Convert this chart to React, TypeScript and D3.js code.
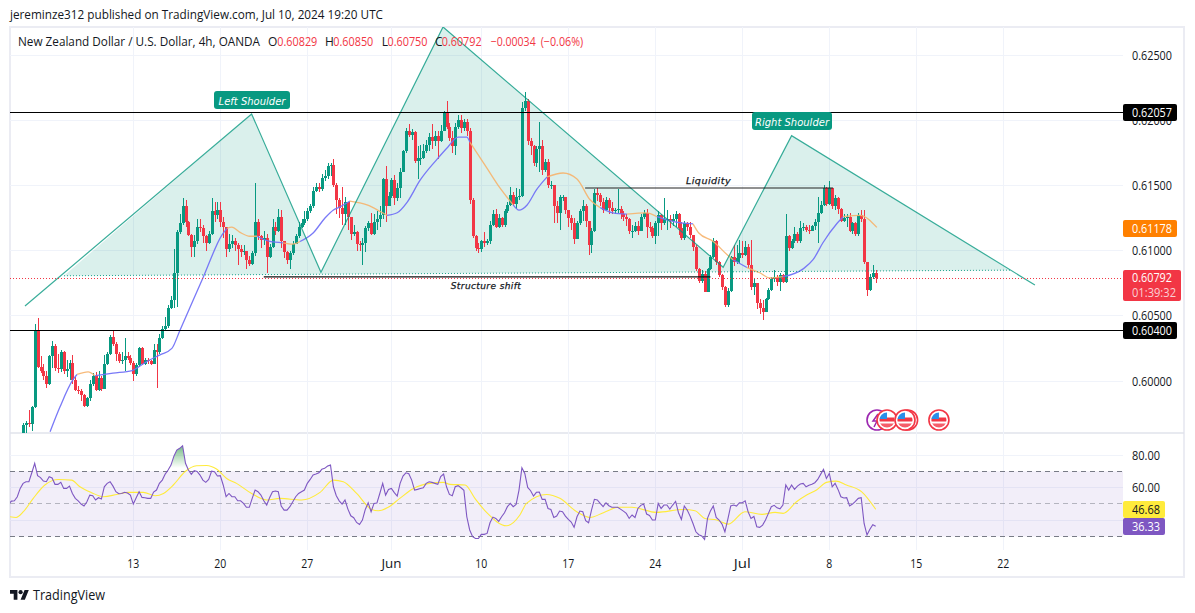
import React from "react";
import * as d3 from "d3";

// ---- data (prices in 1/10000 units) ----
const closes = [
5966,5968,5967,5980,6038,6011,6008,6004,5998,6019,
6027,6010,6009,6022,6008,6009,6014,6001,5993,5992,
5989,5981,5987,5998,6004,5993,6002,5994,6013,6021,
6034,6028,6021,6015,6016,6019,6018,6014,6005,6012,
6025,6013,6016,6015,6013,6024,6022,6033,6040,6042,
6056,6062,6083,6114,6121,6134,6122,6112,6103,6107,
6118,6117,6111,6106,6113,6130,6127,6131,6122,6118,
6101,6105,6107,6104,6101,6099,6100,6093,6090,6098,
6122,6111,6108,6110,6095,6103,6118,6115,6126,6107,
6099,6093,6098,6105,6111,6118,6121,6124,6130,6134,
6146,6149,6147,6156,6157,6165,6166,6150,6139,6133,
6128,6137,6126,6113,6114,6105,6104,6106,6117,6121,
6113,6122,6124,6127,6155,6134,6142,6154,6140,6148,
6160,6176,6192,6189,6191,6169,6171,6171,6176,6181,
6187,6184,6188,6184,6192,6206,6195,6186,6180,6195,
6200,6194,6199,6192,6139,6111,6102,6101,6107,6106,
6107,6120,6128,6118,6125,6120,6130,6135,6143,6136,
6141,6142,6209,6215,6184,6180,6167,6178,6180,6162,
6168,6150,6150,6134,6129,6141,6141,6131,6125,6121,
6109,6121,6130,6134,6123,6104,6115,6144,6143,6137,
6131,6139,6133,6130,6131,6132,6128,6126,6124,6115,
6115,6119,6115,6126,6129,6118,6117,6111,6121,6127,
6121,6124,6124,6123,6124,6128,6117,6110,6121,6118,
6112,6103,6086,6077,6082,6068,6086,6095,6107,6091,
6081,6072,6058,6069,6095,6091,6094,6098,6097,6103,
6089,6072,6075,6060,6056,6053,6063,6070,6078,6080,
6076,6081,6076,6111,6102,6107,6113,6107,6117,6118,
6116,6115,6119,6122,6129,6135,6148,6136,6148,6134,
6140,6132,6123,6125,6126,6115,6121,6113,6127,6124,
6091,6070,6080,6082.9,6079.2];
const highs = [
5968,5969,5978,5981,6044,6048,6019,6013,6008,6020,
6031,6028,6021,6024,6023,6016,6016,6020,6003,5996,
5994,5990,5988,6001,6006,6007,6008,6004,6020,6022,
6035,6039,6030,6022,6022,6033,6022,6020,6015,6014,
6026,6026,6018,6018,6016,6028,6028,6036,6042,6049,
6058,6065,6101,6116,6128,6140,6139,6123,6113,6112,
6124,6124,6120,6112,6115,6140,6137,6137,6137,6126,
6118,6113,6112,6110,6106,6104,6104,6100,6096,6100,
6152,6124,6112,6115,6113,6105,6124,6122,6132,6131,
6107,6100,6100,6107,6113,6122,6124,6130,6133,6136,
6149,6152,6152,6159,6162,6167,6167,6170,6152,6140,
6149,6141,6137,6126,6120,6115,6107,6110,6119,6123,
6129,6128,6130,6134,6156,6165,6145,6156,6158,6152,
6163,6177,6194,6197,6193,6192,6180,6181,6182,6185,
6190,6197,6192,6192,6196,6207,6215,6198,6192,6198,
6204,6204,6201,6201,6194,6140,6112,6106,6108,6114,
6109,6123,6131,6132,6128,6126,6132,6137,6149,6145,
6148,6147,6214,6222,6216,6186,6181,6180,6199,6185,
6170,6170,6153,6150,6138,6143,6143,6141,6131,6127,
6125,6123,6132,6139,6136,6123,6117,6147,6148,6144,
6140,6141,6140,6137,6133,6147,6134,6130,6128,6125,
6120,6122,6123,6128,6131,6132,6122,6119,6123,6130,
6128,6140,6131,6127,6128,6130,6129,6122,6123,6122,
6122,6112,6104,6087,6085,6084,6087,6097,6110,6108,
6092,6082,6073,6071,6096,6104,6104,6108,6107,6107,
6105,6108,6079,6075,6063,6062,6064,6071,6080,6085,
6081,6083,6082,6128,6112,6109,6118,6114,6123,6121,
6120,6120,6120,6124,6141,6138,6150,6149,6153,6148,
6143,6141,6133,6128,6128,6129,6122,6122,6129,6131,
6131,6091,6082,6089,6085];
const lows = [
5959,5960,5965,5962,5979,6010,6006,6001,5995,5997,
6010,6008,6006,6007,6005,6003,6001,5998,5992,5990,
5985,5980,5980,5985,5996,5992,5992,5992,5994,6012,
6020,6027,6015,6014,6013,6008,6016,6012,6000,6004,
6011,6012,6012,6013,6012,6013,5995,6021,6032,6039,
6041,6055,6056,6057,6113,6120,6118,6111,6095,6095,
6105,6114,6106,6100,6105,6112,6122,6124,6118,6110,
6095,6099,6102,6100,6089,6095,6097,6086,6088,6089,
6096,6108,6102,6104,6083,6094,6102,6112,6114,6102,
6094,6090,6086,6097,6105,6110,6117,6120,6123,6129,
6133,6145,6145,6146,6153,6155,6157,6149,6128,6125,
6120,6120,6116,6108,6111,6100,6100,6089,6099,6115,
6112,6112,6116,6118,6124,6122,6134,6140,6135,6138,
6140,6160,6175,6187,6185,6167,6155,6166,6170,6175,
6176,6178,6180,6170,6183,6192,6193,6184,6175,6173,
6193,6190,6192,6188,6136,6110,6100,6098,6099,6103,
6104,6105,6119,6117,6117,6118,6118,6129,6134,6134,
6132,6139,6141,6207,6181,6173,6165,6164,6160,6158,
6160,6148,6147,6121,6121,6116,6138,6128,6118,6116,
6105,6109,6120,6123,6118,6097,6098,6114,6138,6134,
6129,6130,6128,6128,6128,6129,6124,6123,6119,6113,
6110,6114,6112,6116,6124,6110,6114,6110,6105,6111,
6116,6120,6116,6117,6119,6118,6112,6108,6108,6115,
6110,6100,6084,6075,6075,6068,6069,6085,6094,6089,
6080,6070,6057,6057,6068,6088,6090,6090,6094,6096,
6087,6070,6066,6055,6051,6047,6053,6062,6069,6076,
6073,6069,6075,6075,6100,6101,6106,6106,6106,6115,
6114,6113,6115,6116,6106,6128,6134,6134,6135,6132,
6131,6128,6122,6122,6118,6114,6113,6111,6111,6122,
6090,6065,6069,6078,6075];
const firstOpen = 5960;

// EMA line: candle index, value, colour run
const emaIdx = [9.3,12.7,17.2,18.6,22.4,24.8,31,37.6,39.3,42.7,47.2,51.3,54.1,62,68.6,70.3,72,74.8,78.2,80.7,85.1,89.6,93,95.5,100,104.1,106.9,109.3,112.7,118.6,123.1,125.5,129,132.4,136.9,142.7,146.5,150,153,154.1,160,163.8,167.2,169,171,173.8,177,180.7,186.2,191,195.5,199,203.4,208.2,215,218.6,222,227.5,231,233,238,242.7,244.8,249.6,254,257.5,262,269,272.4,275.8,280.7,282.8,288.6,294.4];
const emaVal = [5961,5980,6001,6005,6007,6004,6006,6008,6010,6015,6020,6025,6039,6079,6112,6117,6118,6114,6111,6111,6107,6106,6105,6107,6113.5,6125,6131,6133.5,6138,6135,6130,6127,6129,6137,6154,6170,6179.5,6187,6187,6183,6163,6150,6140,6135,6131,6135,6146.5,6156.5,6159.5,6155,6139,6133,6129,6128,6129,6126,6123.5,6121,6120.5,6113.5,6107,6097,6093,6087,6083,6079,6080,6086,6093,6106,6121,6126,6127,6117.8];
const emaOrangeRuns = [[18.6,24.8],[70.3,80.7],[89.6,95.5],[112.7,125.5],[154.1,169],[180.7,199],[208.2,218.6],[231,244.8],[249.6,262],[282.8,294.4]];

const rsiStart = -5;
const rsiVal = [
49.9,51.7,51.9,54.4,59.5,
62.6,63.6,63.6,69.1,74.9,67.3,66.1,64.0,63.6,66.7,
65.9,62.0,62.0,63.2,59.5,59.5,60.9,56.4,53.4,51.9,
49.9,48.7,51.3,55.4,55.0,52.4,53.8,53.0,60.5,62.6,
63.6,60.9,57.5,56.2,56.4,57.1,56.7,55.4,49.9,53.8,
57.5,54.0,53.8,53.4,53.4,57.3,58.5,62.6,64.6,68.3,
70.8,73.8,79.3,83.0,84.1,85.7,74.9,70.8,68.1,70.4,
69.9,67.7,64.6,63.2,65.0,70.1,69.7,67.1,67.3,61.6,
54.4,56.4,54.4,54.4,51.9,51.9,50.3,47.9,47.9,53.4,
58.5,57.5,55.4,51.9,49.3,53.8,57.5,57.9,57.5,48.7,
46.2,46.2,48.3,51.3,54.4,56.4,57.5,58.5,62.6,65.0,
67.7,68.3,69.1,71.2,71.8,73.2,73.8,60.5,55.0,51.9,
49.9,52.4,46.8,42.7,41.5,38.6,37.4,40.1,46.6,50.7,
45.2,50.3,50.5,56.4,62.6,55.4,58.9,59.5,56.9,54.8,
62.6,67.1,69.1,68.5,64.6,58.5,58.9,59.5,59.9,62.6,
63.6,63.2,62.6,62.0,66.7,68.3,60.5,55.8,55.0,60.5,
61.2,59.9,58.3,42.1,34.0,29.9,28.8,28.8,31.3,31.3,
31.9,38.4,41.9,41.1,39.3,42.1,44.6,48.3,50.3,48.3,
49.7,58.5,72.2,68.7,60.1,58.1,54.8,57.1,57.3,52.8,
52.8,47.2,46.6,41.7,42.5,45.6,45.2,42.5,40.5,38.9,
35.6,42.1,45.6,45.2,39.7,38.4,46.2,52.8,52.4,50.3,
48.3,50.7,48.9,47.9,47.9,47.9,46.8,45.6,44.2,41.1,
43.2,41.7,47.2,49.1,49.9,43.8,42.9,40.1,40.1,50.3,
47.2,49.3,49.3,46.8,49.3,51.5,44.6,40.5,48.7,46.2,
42.5,38.0,32.9,31.1,30.3,28.2,41.1,45.6,48.7,41.7,
40.1,37.6,32.9,40.5,48.7,49.3,48.7,50.7,50.7,51.9,
45.2,41.1,42.3,36.0,35.6,37.0,40.1,44.2,48.3,49.1,
47.6,47.0,49.3,61.6,58.5,61.6,58.9,60.9,62.2,62.6,
60.5,61.4,62.0,63.0,65.0,68.1,71.2,65.6,68.7,60.5,
62.6,58.9,54.4,53.6,53.8,48.7,49.9,51.5,53.4,53.8,
38.0,30.9,34.4,37.2,36.33];
const rsiMaIdx = [-4.5,-2.4,0.1,3.5,7.5,12.2,16.7,19.6,23.6,27.7,32.3,36.3,41.5,45.5,48.4,51.8,55.8,59.8,63.3,66.7,70.2,73.6,78.8,84,88.6,96,102.4,107,110.4,115,120.2,122.5,125.9,129.9,134.6,140.3,144.9,147.2,152.4,155.8,159.9,166.7,171.3,173.6,180.5,185.1,190.9,195.5,200.1,205.3,209.9,218.5,227.7,231.7,235.1,239.2,243.2,248.9,254.7,259.3,262.1,266.7,270.2,273.6,277,280.3,283.9,289.1,294];
const rsiMaVal = [42.1,41.7,45.2,53.4,61.6,65,64.6,60.5,56.9,54.4,55.8,57.1,57.1,55,56.4,61.6,69.7,73.4,73.6,71.4,65.6,62.6,56.4,52.4,53.4,52.4,57.1,64.6,63.6,56.4,46.6,45.8,47.9,53.4,59.5,62.6,63.2,62,61.6,53.4,44.6,36.6,43.2,50.3,55.8,53.4,45.2,41.7,44.6,47.9,47.9,44.8,46.6,45.8,41.1,40.1,37.6,45.2,43.6,44.8,44.2,51.3,55.4,58.5,63.2,64,61.6,57.5,46.68];

// head & shoulders drawing, anchored in candle index and price
const patternIdx = [0.65,78.8,102.7,144.8,241.4,265,348.9];
const patternVal = [6057.5,6204.8,6083.4,6271.5,6087.2,6188.1,6073.6];
const baseIdx = [14.1,340.3];
const baseVal = [6080.7,6085];

const priceTicks = [0.6,0.605,0.61,0.615,0.62,0.625];
const rsiTicks = [40,60,80];
const timeTicks = [[38,"13",12],[68,"20",12],[98,"27",12],[127,"Jun",20],[158,"10",12],[188,"17",12],[218,"24",12],[248,"Jul",17],[278,"8",6],[308,"15",12],[338,"22",12]] as [number,string,number][];
const flagIdx = [297.9,305,304.1,315.8];
const legendParts = [["O",268,"0.60829",277.3],["H",325,"0.60850",333.3],["L",381.7,"0.60750",387.5],["C",435,"0.60792",441.7]] as [string,number,string,number][];

const FONT = "'Open Sans', sans-serif";
const GREEN = "#089981", RED = "#f23645", TEAL = "#089981";
const L = 10, R = 1123, TOP = 27, MID = 433, RSI_BOT = 550;

const x = d3.scaleLinear().domain([38, 338]).range([133.3, 1003.3]);
const y = d3.scaleLinear().domain([0.6, 0.625]).range([381, 55]);
const py = (v: number) => y(v / 1e4);
const ry = d3.scaleLinear().domain([30, 80]).range([536.5, 455]);
const snap = (v: number) => Math.round(v - 0.5) + 0.5;

const T = ({ w, children, ...p }: any) => (
  <text textLength={w} lengthAdjust="spacingAndGlyphs" {...p}>{children}</text>
);

const Candles = () => (
  <g shapeRendering="crispEdges">
    {closes.map((c, i) => {
      const o = i === 0 ? firstOpen : closes[i - 1];
      const col = c >= o ? GREEN : RED;
      const cx = Math.round(x(i));
      const top = Math.min(py(o), py(c));
      const h = Math.max(1, Math.abs(py(o) - py(c)));
      return (
        <g key={i}>
          <line x1={cx + 0.5} x2={cx + 0.5} y1={py(Math.max(highs[i], o, c))} y2={py(Math.min(lows[i], o, c))} stroke={col} strokeWidth={1} />
          <rect x={cx - 1} y={top} width={3} height={h} fill={col} />
        </g>
      );
    })}
  </g>
);

const emaLine = d3.line<[number, number]>().x(d => x(d[0])).y(d => py(d[1])).curve(d3.curveMonotoneX);
const Ema = () => {
  const pts = emaIdx.map((v, i) => [v, emaVal[i]] as [number, number]);
  const isO = (a: number, b: number) => emaOrangeRuns.some(r => a >= r[0] && b <= r[1]);
  const runs: { o: boolean; p: [number, number][] }[] = [];
  for (let i = 1; i < pts.length; i++) {
    const o = isO(pts[i - 1][0], pts[i][0]);
    const last = runs[runs.length - 1];
    if (last && last.o === o) last.p.push(pts[i]);
    else runs.push({ o, p: [pts[i - 1], pts[i]] });
  }
  return (
    <g fill="none" strokeWidth={1.3}>
      {runs.map((r, i) => (
        <path key={i} d={emaLine(r.p) || ""} stroke={r.o ? "#f6b26b" : "#7272f7"} opacity={r.o ? 0.9 : 0.95} />
      ))}
    </g>
  );
};

const Flag = ({ cx }: { cx: number }) => (
  <g transform={`translate(${cx},420)`}>
    <circle r={10} fill="#fff" stroke={RED} strokeWidth={1.6} />
    <circle r={8} fill="#fff" />
    <clipPath id={`fl${Math.round(cx)}`}><circle r={7.6} /></clipPath>
    <g clipPath={`url(#fl${Math.round(cx)})`}>
      <rect x={-8} y={-2.5} width={16} height={4} fill={RED} />
      <rect x={-8} y={3.5} width={16} height={5} fill={RED} opacity={0.8} />
      <rect x={-8} y={-8} width={8} height={7} fill="#2a8ee8" />
    </g>
  </g>
);

export default function App() {
  const rsiPts = rsiVal.map((v, i) => [i + rsiStart, v] as [number, number]);
  const rsiLine = d3.line<[number, number]>().x(d => x(d[0])).y(d => ry(d[1]));
  const rsiMaLine = d3.line<[number, number]>().x(d => x(d[0])).y(d => ry(d[1])).curve(d3.curveMonotoneX);
  const rsiArea = d3.area<[number, number]>().x(d => x(d[0])).y0(ry(70)).y1(d => ry(d[1]));
  const pat = patternIdx.map((v, i) => [x(v), py(patternVal[i])] as [number, number]);
  const b0 = [x(baseIdx[0]), py(baseVal[0])], b1 = [x(baseIdx[1]), py(baseVal[1])];
  const fillPts = [b0, pat[1], pat[2], pat[3], pat[4], pat[5], b1];
  const lastPx = snap(y(0.60792)) + 1;
  const shelfY = snap(y(0.62057)), floorY = snap(y(0.6039));
  const priceLabel = (t: string, bg: string, yy: number) => (
    <g key={t}>
      <rect x={R} y={yy - 8.5} width={54} height={17} fill={bg} rx={2} />
      <T w={40} x={1132} y={yy + 4.5} fontSize={12} fill="#fff">{t}</T>
    </g>
  );
  return (
    <svg width={1195} height={613} viewBox="0 0 1195 613" style={{ position: "absolute", left: 0, top: 0, display: "block", background: "#fff" }} fontFamily={FONT}>
      <defs>
        <clipPath id="main"><rect x={L} y={TOP} width={R - L} height={MID - TOP} /></clipPath>
        <clipPath id="pane2"><rect x={L} y={MID} width={R - L} height={RSI_BOT - MID + 20} /></clipPath>
        <clipPath id="ob"><rect x={L} y={MID} width={R - L} height={ry(70) - MID} /></clipPath>
        <linearGradient id="obg" gradientUnits="userSpaceOnUse" x1="0" y1="445" x2="0" y2="468">
          <stop offset="0%" stopColor="#3c9c5a" stopOpacity={0.75} />
          <stop offset="100%" stopColor="#4caf50" stopOpacity={0} />
        </linearGradient>
      </defs>

      <T w={373} x={10} y={19} fontSize={12} fill="#131722">jereminze312 published on TradingView.com, Jul 10, 2024 19:20 UTC</T>

      {/* frame */}
      <rect x={10} y={27} width={1174} height={550} fill="none" stroke="#ebecf3" strokeWidth={2} />
      <line x1={L} x2={1184} y1={MID} y2={MID} stroke="#e0e3eb" strokeWidth={1.5} />

      {/* grid */}
      <g stroke="#f0f3fa" strokeWidth={1} shapeRendering="crispEdges">
        {timeTicks.map(([i]) => <line key={i} x1={x(i)} x2={x(i)} y1={TOP} y2={RSI_BOT} />)}
        {priceTicks.map(p => <line key={p} x1={L} x2={R} y1={y(p)} y2={y(p)} />)}
        {rsiTicks.map(p => <line key={p} x1={L} x2={R} y1={ry(p)} y2={ry(p)} />)}
      </g>

      {/* main pane */}
      <g clipPath="url(#main)">
        <path d={d3.line()(fillPts as [number, number][]) + "Z"} fill={TEAL} fillOpacity={0.15} />
        <Candles />
        <Ema />
        <line x1={b0[0]} y1={b0[1]} x2={b1[0]} y2={b1[1]} stroke={TEAL} strokeWidth={1} strokeDasharray="1 2" opacity={0.9} />
        <path d={d3.line()(pat) || ""} fill="none" stroke={TEAL} strokeWidth={1.2} opacity={0.8} />
        <line x1={x(83)} x2={x(237)} y1={276.8} y2={276.8} stroke="#111" strokeWidth={1.2} />
        <line x1={x(193.8)} x2={x(279.3)} y1={188} y2={188} stroke="#222" strokeWidth={1} />
        <line x1={L} x2={R} y1={lastPx} y2={lastPx} stroke={RED} strokeWidth={1} strokeDasharray="1 2" />
        <line x1={L} x2={R} y1={shelfY} y2={shelfY} stroke="#000" strokeWidth={1} shapeRendering="crispEdges" />
        <line x1={L} x2={R} y1={floorY} y2={floorY} stroke="#000" strokeWidth={1} shapeRendering="crispEdges" />
        <text x={708.5} y={183.5} fontSize={9.5} fontStyle="italic" letterSpacing={0.5} textAnchor="middle" fill="#131722" stroke="#131722" strokeWidth={0.25} fontFamily="'DejaVu Sans', sans-serif">Liquidity</text>
        <text x={486} y={289} fontSize={9} fontStyle="italic" letterSpacing={0.4} textAnchor="middle" fill="#131722" stroke="#131722" strokeWidth={0.25} fontFamily="'DejaVu Sans', sans-serif">Structure shift</text>
      </g>

      {/* shoulder labels */}
      <g fontFamily="'DejaVu Sans', sans-serif" fontStyle="italic" fontSize={10} fill="#fff" textAnchor="middle">
        <rect x={214} y={91} width={76} height={18} rx={3} fill={GREEN} />
        <text x={252} y={104.5}>Left Shoulder</text>
        <rect x={752} y={112} width={80} height={18} rx={3} fill={GREEN} />
        <text x={792} y={125.5}>Right Shoulder</text>
      </g>

      {/* event markers */}
      <g>
        <circle cx={877} cy={420} r={10} fill="#fff" stroke="#9c27b0" strokeWidth={1.6} />
        <path d="M878 414 L873 421 L877 421 L874 427" fill="none" stroke="#9c27b0" strokeWidth={1.5} />
        {flagIdx.map((f, i) => <Flag key={i} cx={x(f)} />)}
      </g>

      {/* legend */}
      <g fontSize={12} fill="#131722">
        <T w={242} x={18} y={46}>New Zealand Dollar / U.S. Dollar, 4h, OANDA</T>
        {legendParts.map(([k, kx, v, vx]) => (
          <g key={k}>
            <text x={kx} y={46}>{k}</text>
            <T w={40} x={vx} y={46} fill={RED}>{v}</T>
          </g>
        ))}
        <T w={45} x={490.7} y={46} fill={RED}>−0.00034</T>
        <T w={42.5} x={540.7} y={46} fill={RED}>(−0.06%)</T>
      </g>

      {/* RSI */}
      <rect x={L} y={ry(70)} width={R - L} height={ry(30) - ry(70)} fill="#7e57c2" fillOpacity={0.1} />
      <g stroke="#787b86" strokeWidth={1} shapeRendering="crispEdges">
        <line x1={L} x2={R} y1={ry(70)} y2={ry(70)} strokeDasharray="5 4" />
        <line x1={L} x2={R} y1={ry(50)} y2={ry(50)} strokeDasharray="5 4" opacity={0.5} />
        <line x1={L} x2={R} y1={ry(30)} y2={ry(30)} strokeDasharray="5 4" />
      </g>
      <g clipPath="url(#pane2)">
        <path d={rsiArea(rsiPts) || ""} fill="url(#obg)" clipPath="url(#ob)" />
        <path d={rsiMaLine(rsiMaIdx.map((v, i) => [v, rsiMaVal[i]] as [number, number])) || ""} fill="none" stroke="#ffeb3b" strokeWidth={1.1} />
        <path d={rsiLine(rsiPts) || ""} fill="none" stroke="#7e57c2" strokeWidth={1.1} />
      </g>

      {/* time axis */}
      <g fontSize={12} fill="#131722" textAnchor="middle">
        {timeTicks.map(([i, t, w]) => <T key={i} w={w} x={x(i)} y={568}>{t}</T>)}
      </g>

      {/* price axis */}
      <g fontSize={12} fill="#131722">
        {priceTicks.map(p => <T key={p} w={40} x={1132} y={y(p) + 4.5}>{p.toFixed(5)}</T>)}
        {rsiTicks.filter(p => p !== 40).map(p => <T key={p} w={28} x={1132} y={ry(p) + 4.5}>{p.toFixed(2)}</T>)}
      </g>
      {priceLabel("0.62057", "#000", shelfY)}
      {priceLabel("0.60400", "#000", floorY)}
      {priceLabel("0.61178", "#ff8000", 228.5)}
      <rect x={R} y={270} width={58} height={31} rx={2} fill={RED} />
      <T w={40} x={1132} y={282} fontSize={12} fill="#fff">0.60792</T>
      <T w={44} x={1132} y={297} fontSize={12} fill="#fbd0d4">01:39:32</T>
      <rect x={R} y={501} width={42} height={17} rx={2} fill="#ffeb3b" />
      <T w={28} x={1132} y={514} fontSize={12} fill="#131722">46.68</T>
      <rect x={R} y={518} width={42} height={17} rx={2} fill="#7e57c2" />
      <T w={28} x={1132} y={531} fontSize={12} fill="#fff">36.33</T>

      {/* footer logo */}
      <g transform="translate(10,588) scale(0.53)" fill="#131722">
        <path d="M14 22H7V11H0V4h14v18zM28 22h-8l7.5-18h8L28 22z" />
        <circle cx={20} cy={8} r={4} />
      </g>
      <T w={72} x={33} y={600} fontSize={14} fill="#131722">TradingView</T>
    </svg>
  );
}
